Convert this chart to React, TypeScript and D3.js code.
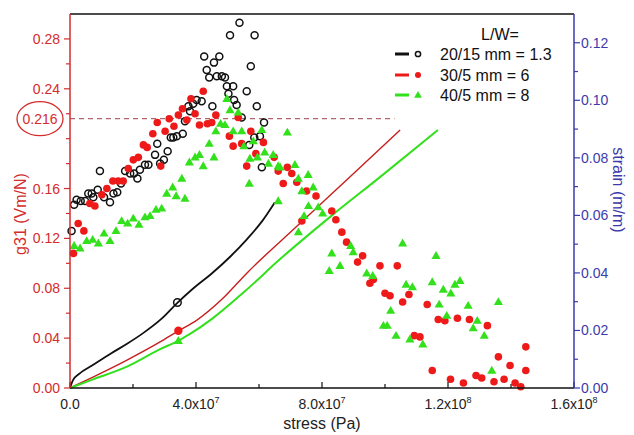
import React from 'react';
import * as d3 from 'd3';

// ---- axis ticks ----
const xTickValues = [0, 4, 8, 12, 16]; // stress in 10^7 Pa
const xTickMantissa = ['0.0', '4.0x10', '8.0x10', '1.2x10', '1.6x10'];
const xTickExponent = ['', '7', '7', '8', '8'];
const xMinorTicks = [2, 6, 10, 14];
const leftTickValues = [0, 0.04, 0.08, 0.12, 0.16, 0.24, 0.28];
const leftMinorTicks = [0.02, 0.06, 0.1, 0.14, 0.18, 0.2, 0.22, 0.26];
const rightTickValues = [0, 0.02, 0.04, 0.06, 0.08, 0.1, 0.12];
const rightMinorTicks = [0.01, 0.03, 0.05, 0.07, 0.09, 0.11];
const markedG31 = 0.216;
const markedG31End = 10.3; // dashed line end, 10^7 Pa

// ---- legend ----
const legendTitle = 'L/W=';
const seriesNames = ['20/15 mm = 1.3', '30/5 mm = 6', '40/5 mm = 8'];

// ---- g31 scatter (stress in 10^7 Pa, g31 in Vm/N) ----
const blackStress = [0.05,0.13,0.21,0.34,0.48,0.58,0.69,0.74,0.88,0.95,1.08,1.27,1.38,1.5,1.62,1.75,1.91,2.03,2.14,2.22,2.38,2.49,2.7,2.77,2.86,2.98,3.1,3.2,3.28,3.39,3.58,3.65,3.76,3.81,3.91,4.02,4.18,4.26,4.34,4.42,4.52,4.57,4.66,4.74,4.82,4.92,4.98,5.08,5.03,5.18,5.21,5.29,5.38,5.45,5.61,5.69,5.74,5.86,5.93,6.03,6.09,6.16,5.85];
const blackG31 = [0.126,0.147,0.151,0.15,0.15,0.156,0.156,0.153,0.159,0.174,0.153,0.149,0.156,0.157,0.164,0.174,0.172,0.172,0.168,0.175,0.179,0.179,0.187,0.196,0.18,0.183,0.19,0.201,0.201,0.202,0.204,0.214,0.226,0.222,0.228,0.231,0.23,0.266,0.255,0.249,0.226,0.261,0.25,0.266,0.25,0.249,0.242,0.283,0.236,0.242,0.231,0.227,0.293,0.217,0.238,0.195,0.258,0.283,0.226,0.202,0.177,0.213,0.201];

const redStress = [0.11,0.26,0.44,0.63,0.79,1.01,1.17,1.36,1.53,1.69,1.85,2.01,2.17,2.33,2.45,2.63,2.77,2.88,3.02,3.15,3.3,3.44,3.57,3.71,3.84,3.97,4.11,4.23,4.36,4.5,4.63,5.06,5.18,5.34,5.45,5.61,5.74,5.9,6.14,6.48,6.61,6.77,6.9,7.04,7.2,7.36,7.51,7.81,8.31,8.44,8.63,8.78,9.13,9.29,9.84,10.39,9.52,9.63,10.0,10.16,10.56,10.76,11.34,11.69,11.9,12.3,12.68,13.25,10.93,11.11,11.5,12.08,12.49,12.89,13.07,13.46,13.78,14.13,14.31,13.6,13.97,14.47,14.47];
const redG31 = [0.108,0.132,0.126,0.148,0.146,0.155,0.16,0.166,0.166,0.166,0.176,0.183,0.185,0.195,0.193,0.204,0.213,0.178,0.206,0.216,0.21,0.219,0.224,0.215,0.232,0.22,0.211,0.238,0.212,0.213,0.219,0.202,0.194,0.217,0.196,0.178,0.206,0.188,0.197,0.185,0.174,0.164,0.177,0.172,0.165,0.134,0.158,0.154,0.142,0.135,0.125,0.117,0.101,0.106,0.098,0.098,0.084,0.087,0.076,0.074,0.069,0.075,0.067,0.055,0.054,0.056,0.055,0.05,0.042,0.041,0.014,0.007,0.004,0.01,0.008,0.005,0.007,0.004,0.001,0.025,0.018,0.033,0.014];

const greenStress = [0.13,0.32,0.53,0.72,0.9,1.08,1.27,1.46,1.64,1.83,2.01,2.19,2.38,2.54,2.73,2.91,3.07,3.37,3.65,3.26,3.55,3.79,3.97,4.11,4.23,4.42,4.57,4.63,4.78,4.92,4.98,5.08,5.18,5.34,5.45,5.52,5.69,5.82,5.95,6.09,6.18,6.3,6.45,6.61,6.9,6.67,7.14,7.25,7.36,7.56,6.61,7.72,7.57,7.88,8.02,7.43,7.25,8.91,8.99,8.31,8.57,8.23,9.42,9.61,10.56,10.18,11.62,10.67,10.87,11.5,11.85,12.09,12.22,12.38,11.72,12.64,13.6,11.96,12.93,12.8,13.15,9.95,10.07,10.35,10.79,11.2,13.39,5.71];
const greenG31 = [0.114,0.112,0.118,0.119,0.116,0.124,0.118,0.126,0.134,0.132,0.136,0.131,0.137,0.138,0.143,0.144,0.156,0.154,0.152,0.161,0.168,0.181,0.185,0.187,0.178,0.196,0.185,0.206,0.212,0.211,0.232,0.223,0.206,0.221,0.206,0.194,0.164,0.198,0.185,0.207,0.189,0.18,0.187,0.178,0.205,0.177,0.179,0.168,0.158,0.171,0.15,0.161,0.146,0.145,0.14,0.138,0.125,0.114,0.109,0.108,0.098,0.094,0.092,0.09,0.116,0.062,0.106,0.083,0.081,0.085,0.079,0.076,0.083,0.086,0.067,0.066,0.069,0.058,0.054,0.048,0.042,0.05,0.05,0.042,0.039,0.035,0.014,0.184];

// ---- strain curves (stress in 10^7 Pa, strain in m/m) ----
const blackLineStress = [0,0.1,0.3,0.7,1.3,1.8,2.3,2.9,3.4,3.9,4.5,5.1,5.6,6.1,6.5];
const blackLineStrain = [0,0.0028,0.005,0.0078,0.012,0.0153,0.0189,0.024,0.0295,0.0345,0.0398,0.0458,0.0515,0.058,0.0645];
const redLineStress = [0,0.73,1.81,2.86,3.43,4.03,4.83,5.62,7.21,8.25,9.3,10.48];
const redLineStrain = [0,0.0038,0.0097,0.016,0.0198,0.0236,0.0309,0.04,0.0563,0.0669,0.0776,0.0897];
const greenLineStress = [0,0.73,1.81,2.86,3.43,3.81,4.54,5.56,6.67,8.25,9.84,11.68];
const greenLineStrain = [0,0.003,0.0074,0.0135,0.0164,0.0188,0.0243,0.0337,0.0448,0.0594,0.0733,0.0897];
const lineMarkerStress = [3.41, 3.44, 3.44];
const lineMarkerStrain = [0.0297, 0.0199, 0.0164];

const BLACK = '#111111';
const RED = '#ee1a1a';
const GREEN = '#33e01c';
const RED_LINE = '#c81e1e';
const AXIS_RED = '#d42c2c';
const AXIS_BLUE = '#3b3bab';
const FONT = '"Liberation Sans", Arial, Helvetica, sans-serif';

export default function App() {
  const W = 634, H = 435;
  const left = 70, right = 574, top = 14, bottom = 388;
  const x = d3.scaleLinear().domain([0, 16]).range([left, right]);
  const yL = d3.scaleLinear().domain([0, 0.3]).range([bottom, top]);
  const yR = d3.scaleLinear().domain([0, 0.13]).range([bottom, top]);
  const fmt = d3.format('.2f');

  const line = d3.line<[number, number]>()
    .x(d => x(d[0])).y(d => yR(d[1])).curve(d3.curveMonotoneX);
  const zip = (a: number[], b: number[]) => a.map((v, i) => [v, b[i]] as [number, number]);

  const tri = d3.symbol().type(d3.symbolTriangle).size(36)();
  const triSmall = d3.symbol().type(d3.symbolTriangle).size(26)();

  const renderBlack = (cx: number, cy: number, k: string, r = 3.5) => (
    <circle key={k} cx={cx} cy={cy} r={r} fill="none" stroke={BLACK} strokeWidth={1.5} />
  );
  const renderRed = (cx: number, cy: number, k: string, r = 3.8) => (
    <circle key={k} cx={cx} cy={cy} r={r} fill={RED} />
  );
  const renderGreen = (cx: number, cy: number, k: string, p = tri) => (
    <path key={k} d={p as string} transform={`translate(${cx},${cy + 0.5})`} fill={GREEN} />
  );

  const legendRows = [
    { color: BLACK, y: 54 },
    { color: RED, y: 75 },
    { color: GREEN, y: 95 },
  ];

  return (
    <svg width={W} height={H} style={{ position: 'absolute', left: 0, top: 0, background: '#fff' }}
      fontFamily={FONT}>
      <rect x={0} y={0} width={W} height={H} fill="#fff" />

      {/* dashed reference at 0.216 */}
      <line x1={left} x2={x(markedG31End)} y1={yL(markedG31)} y2={yL(markedG31)}
        stroke="#b0646e" strokeWidth={1.2} strokeDasharray="5,4" />

      {/* strain curves */}
      <path d={line(zip(blackLineStress, blackLineStrain)) as string} fill="none" stroke={BLACK} strokeWidth={1.8} />
      <path d={line(zip(redLineStress, redLineStrain)) as string} fill="none" stroke={RED_LINE} strokeWidth={1.4} />
      <path d={line(zip(greenLineStress, greenLineStrain)) as string} fill="none" stroke={GREEN} strokeWidth={2} />
      {renderBlack(x(lineMarkerStress[0]), yR(lineMarkerStrain[0]), 'lm0', 3.8)}
      {renderRed(x(lineMarkerStress[1]), yR(lineMarkerStrain[1]), 'lm1', 4.2)}
      {renderGreen(x(lineMarkerStress[2]), yR(lineMarkerStrain[2]), 'lm2')}

      {/* scatter */}
      {blackStress.map((s, i) => renderBlack(x(s), yL(blackG31[i]), 'b' + i))}
      {redStress.map((s, i) => renderRed(x(s), yL(redG31[i]), 'r' + i))}
      {greenStress.map((s, i) => renderGreen(x(s), yL(greenG31[i]), 'g' + i))}

      {/* frame top */}
      <line x1={left} x2={right} y1={top} y2={top} stroke={BLACK} strokeWidth={1.5} />

      {/* bottom axis */}
      <line x1={left} x2={right} y1={bottom} y2={bottom} stroke={BLACK} strokeWidth={1.5} />
      {xTickValues.map((t, i) => (
        <g key={'xt' + i}>
          <line x1={x(t)} x2={x(t)} y1={bottom} y2={bottom - 6} stroke={BLACK} strokeWidth={1.2} />
          <text x={x(t)} y={409} textAnchor="middle" fontSize={14} fill="#222">
            <tspan>{xTickMantissa[i]}</tspan>
            {xTickExponent[i] && <tspan dy={-6} fontSize={9}>{xTickExponent[i]}</tspan>}
          </text>
        </g>
      ))}
      {xMinorTicks.map((t, i) => (
        <line key={'xm' + i} x1={x(t)} x2={x(t)} y1={bottom} y2={bottom - 4} stroke={BLACK} strokeWidth={1.2} />
      ))}
      <text x={322} y={429} textAnchor="middle" fontSize={16} fill="#222">stress (Pa)</text>

      {/* left axis */}
      <line x1={left} x2={left} y1={top} y2={bottom} stroke={AXIS_RED} strokeWidth={1.5} />
      {leftTickValues.map((t, i) => (
        <g key={'lt' + i}>
          <line x1={left} x2={left - 6} y1={yL(t)} y2={yL(t)} stroke={AXIS_RED} strokeWidth={1.2} />
          <text x={60} y={yL(t) + 5} textAnchor="end" fontSize={14} fill={AXIS_RED}>{fmt(t)}</text>
        </g>
      ))}
      {leftMinorTicks.map((t, i) => (
        <line key={'lm' + i} x1={left} x2={left - 4} y1={yL(t)} y2={yL(t)} stroke={AXIS_RED} strokeWidth={1.2} />
      ))}
      <ellipse cx={40} cy={yL(markedG31)} rx={23} ry={17} fill="none" stroke={AXIS_RED} strokeWidth={1.3} />
      <text x={40} y={yL(markedG31) + 5} textAnchor="middle" fontSize={14} fill={AXIS_RED}>{String(markedG31)}</text>
      <text transform={`translate(26,214) rotate(-90)`} textAnchor="middle" fontSize={16} fill={AXIS_RED}>g31 (Vm/N)</text>

      {/* right axis */}
      <line x1={right} x2={right} y1={top} y2={bottom} stroke={AXIS_BLUE} strokeWidth={1.5} />
      {rightTickValues.map((t, i) => (
        <g key={'rt' + i}>
          <line x1={right} x2={right + 6} y1={yR(t)} y2={yR(t)} stroke={AXIS_BLUE} strokeWidth={1.2} />
          <text x={581} y={yR(t) + 5} textAnchor="start" fontSize={14} fill={AXIS_BLUE}>{fmt(t)}</text>
        </g>
      ))}
      {rightMinorTicks.map((t, i) => (
        <line key={'rm' + i} x1={right} x2={right + 4} y1={yR(t)} y2={yR(t)} stroke={AXIS_BLUE} strokeWidth={1.2} />
      ))}
      <text transform={`translate(613,190) rotate(90)`} textAnchor="middle" fontSize={16} fill={AXIS_BLUE}>strain (m/m)</text>

      {/* legend */}
      <text x={500} y={40} textAnchor="middle" fontSize={16} fill="#111">{legendTitle}</text>
      {legendRows.map((r, i) => (
        <g key={'lg' + i}>
          <line x1={395} x2={409} y1={r.y} y2={r.y} stroke={r.color} strokeWidth={3} />
          {i === 0 && renderBlack(418, r.y, 'lgm0', 2.6)}
          {i === 1 && renderRed(418, r.y, 'lgm1', 3)}
          {i === 2 && renderGreen(418, r.y, 'lgm2', triSmall)}
          <text x={440} y={r.y + 6} fontSize={16} fill="#111">{seriesNames[i]}</text>
        </g>
      ))}
    </svg>
  );
}
